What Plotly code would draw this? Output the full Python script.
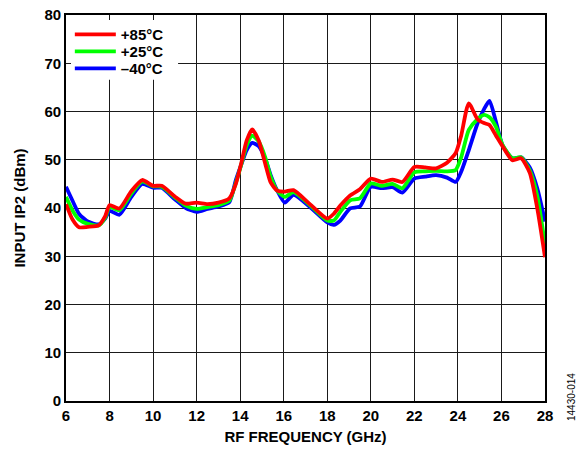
import plotly.graph_objects as go

freq_ghz = [6.0, 6.3, 6.6, 7.0, 7.5, 7.8, 8.0, 8.45, 9.0, 9.5, 10.0, 10.4, 11.0, 11.5,
            12.0, 12.5, 13.0, 13.5, 13.8, 14.05, 14.3, 14.55, 14.85, 15.15, 15.4, 15.7,
            16.05, 16.45, 17.2, 18.0, 18.3, 18.6, 19.05, 19.5, 20.0, 20.5, 21.0, 21.45,
            22.0, 22.5, 23.0, 23.5, 23.9, 24.15, 24.5, 24.9, 25.2, 25.45, 25.75, 26.05,
            26.5, 26.9, 27.3, 27.65, 28.0]

ip2_85c = [40.8, 37.6, 36.0, 36.1, 36.4, 38.3, 40.6, 39.9, 43.5, 45.8, 44.6, 44.6, 42.4, 40.9,
           41.1, 40.8, 41.1, 42.0, 45.0, 49.3, 54.0, 56.3, 54.0, 49.2, 45.3, 43.6,
           43.4, 43.7, 40.8, 37.8, 38.8, 40.5, 42.6, 43.9, 46.1, 45.4, 45.9, 45.4,
           48.5, 48.4, 48.2, 49.4, 51.4, 55.0, 61.7, 58.4, 57.6, 57.2, 55.0, 52.8,
           49.9, 50.3, 47.3, 39.8, 29.8]

ip2_25c = [42.3, 39.5, 37.6, 36.7, 36.4, 38.0, 40.2, 39.5, 43.0, 45.5, 44.5, 44.4, 42.2, 40.5,
           39.8, 40.2, 40.6, 41.5, 45.2, 49.0, 53.0, 55.0, 53.8, 50.5, 46.5, 43.6,
           42.3, 43.3, 40.6, 37.4, 37.4, 39.2, 41.6, 42.0, 45.1, 44.6, 45.0, 44.1,
           47.4, 47.6, 47.7, 47.6, 47.9, 50.5, 56.2, 58.4, 59.3, 58.8, 56.8, 53.1,
           50.3, 50.5, 47.8, 42.4, 32.3]

ip2_m40c = [44.4, 41.5, 38.8, 37.2, 36.6, 37.8, 39.4, 38.6, 42.3, 45.0, 44.2, 44.2, 41.8, 40.0,
            39.2, 39.8, 40.3, 41.2, 45.8, 49.0, 52.0, 53.5, 52.8, 50.2, 46.8, 43.6,
            41.1, 42.7, 40.2, 37.0, 36.5, 37.4, 39.9, 40.3, 44.4, 44.1, 44.3, 43.2,
            46.1, 46.5, 46.8, 46.3, 45.4, 47.5, 52.0, 57.5, 60.5, 62.2, 57.8, 53.0,
            50.3, 50.5, 48.4, 44.0, 37.2]

# drawn bottom-to-top: blue, green, red (red on top); each has its own legend slot
series = [
    ("\u201340°C", ip2_m40c, "#0000FF", "legend3"),
    ("+25°C", ip2_25c, "#00FF00", "legend2"),
    ("+85°C", ip2_85c, "#FF0000", "legend"),
]

x_ticks = list(range(6, 29, 2))
y_ticks = list(range(0, 81, 10))

fig = go.Figure()
for name, vals, color, leg in series:
    fig.add_trace(go.Scatter(
        x=freq_ghz, y=vals, name=name, mode="lines", legend=leg,
        line=dict(color=color, width=3.8, shape="spline", smoothing=0.6),
    ))

font_family = "Liberation Sans, Arial, sans-serif"
leg_font = dict(family=font_family, size=15, color="black", weight="bold")


def leg_cfg(ypos):
    return dict(x=0.008, y=ypos, xanchor="left", yanchor="middle",
                bgcolor="rgba(0,0,0,0)", borderwidth=0, font=leg_font, itemwidth=41)


fig.update_layout(
    width=585, height=452,
    margin=dict(l=66, r=40, t=15, b=51),
    paper_bgcolor="white", plot_bgcolor="white",
    font=dict(family=font_family, color="black"),
    showlegend=True,
    legend=leg_cfg(0.949),
    legend2=leg_cfg(0.905),
    legend3=leg_cfg(0.861),
    xaxis=dict(
        range=[6, 28], tickvals=x_ticks, ticktext=[str(v) for v in x_ticks],
        showgrid=True, gridcolor="#1a1a1a", gridwidth=1.2,
        showline=True, linecolor="black", linewidth=1.8, mirror=True,
        ticks="", zeroline=False, automargin=False,
        tickfont=dict(size=15, weight="bold"),
        title=dict(text="RF FREQUENCY (GHz)", font=dict(size=15, weight="bold"), standoff=9),
    ),
    yaxis=dict(
        range=[0, 80], tickvals=y_ticks, ticktext=[str(v) for v in y_ticks],
        showgrid=True, gridcolor="#1a1a1a", gridwidth=1.2,
        showline=True, linecolor="black", linewidth=1.8, mirror=True,
        ticks="", zeroline=False, automargin=False,
        tickfont=dict(size=15, weight="bold"),
        title=dict(text="INPUT IP2 (dBm)", font=dict(size=15, weight="bold"), standoff=15),
    ),
)

# white legend box covering the grid behind the legend entries
fig.add_shape(
    type="rect", xref="paper", yref="paper",
    x0=0.0104, x1=0.234, y0=0.832, y1=0.987,
    fillcolor="white", line=dict(width=0), layer="above",
)

fig.add_annotation(
    text="14430-014", xref="paper", yref="paper",
    x=1.054, y=0.01, xanchor="center", yanchor="middle",
    textangle=-90, showarrow=False,
    font=dict(family=font_family, size=10, color="black"),
)

fig.write_html("out.html", config={"displayModeBar": False},
               post_script="document.body.style.margin='0';")
